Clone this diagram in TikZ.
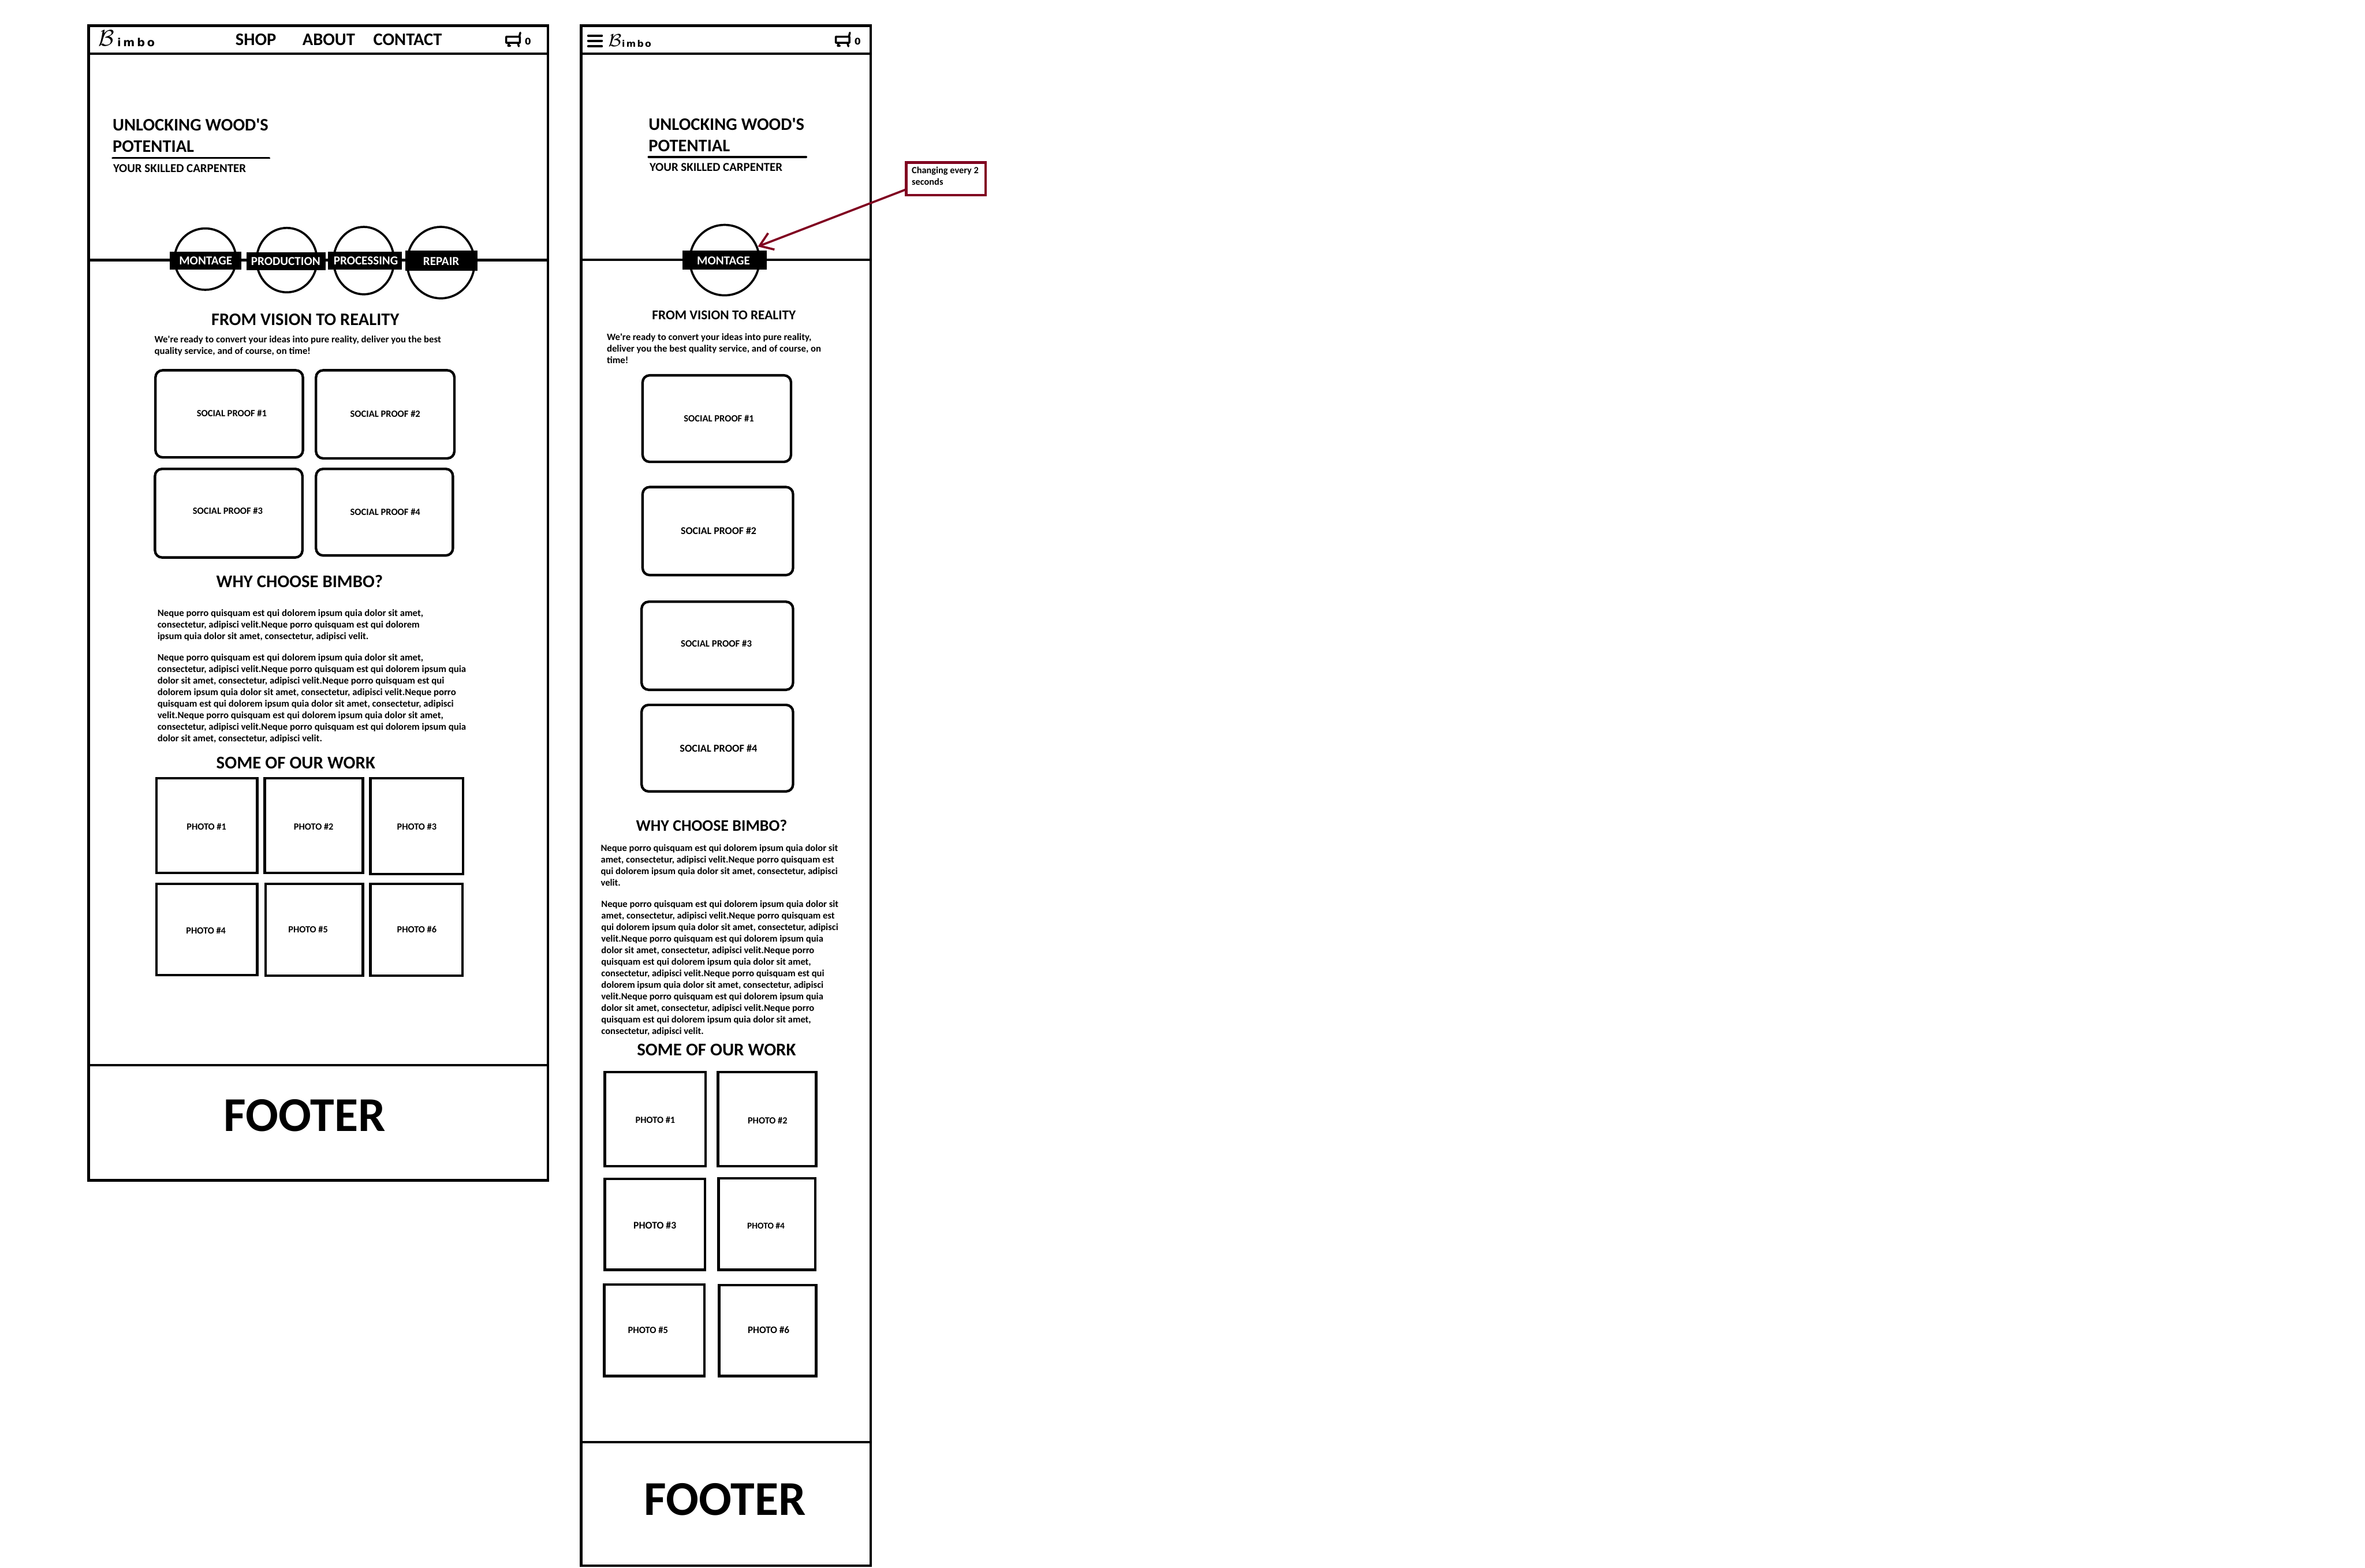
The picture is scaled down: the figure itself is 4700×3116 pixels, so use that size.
\documentclass[tikz,border=0pt]{standalone}
\usepackage{fontspec}
\setmainfont{Carlito}[BoldFont={Carlito Bold},Ligatures=ResetAll]
\newfontfamily\logoa[LetterSpace=20]{DejaVu Sans Bold}
\newfontfamily\logob[LetterSpace=15]{DejaVu Sans Bold}
\newfontfamily\zerof{DejaVu Sans Bold}
\usetikzlibrary{arrows.meta}
\definecolor{noteRed}{HTML}{800020}
\newcommand\sq{\XeTeXglyph\XeTeXcharglyph"27\relax}
\newcommand\fs[1]{\fontsize{#1}{#1}\selectfont\bfseries}
\newcommand\Tx[5]{\node[txt,font=\fs{#2}] (#1) at (#3,#4) {#5};}
\newcommand\TxW[5]{\node[txt,text=white,font=\fs{#2}] (#1) at (#3,#4) {#5};}
\newcommand\ParaT[5]{\node[txt] (#1) at (#3,#4) {\parbox[t]{200pt}{\raggedright\fontsize{#2}{4.6}\selectfont\bfseries #5}};}
\newcommand\Cart[2]{\draw[cart,shift={(#1,#2)}] (1,8) -- (28,8) -- (28,20) -- (1,20) -- cycle (27,8) -- (29,0) (7,20) -- (5,26) -- (9,26) (24,20) -- (26,27);}
\tikzset{
  x=0.2pt,y=-0.2pt,
  txt/.style={inner sep=0pt,outer sep=0pt,anchor=base west,text=black},
  frameline/.style={line width=1pt,draw=black},
  divline/.style={line width=0.95pt,draw=black},
  rule/.style={line width=0.85pt,draw=black,line cap=round},
  ring/.style={line width=0.85pt,draw=black},
  card/.style={line width=1pt,draw=black,rounded corners=2.8pt},
  photo/.style={line width=1pt,draw=black},
  cart/.style={line width=0.8pt,draw=black,line cap=round,line join=round},
  burger/.style={line width=0.9pt,draw=black,line cap=round},
  note/.style={line width=1pt,draw=noteRed,fill=white,inner sep=0pt,minimum width=31.6pt,minimum height=13pt},
  pointer/.style={line width=0.85pt,draw=noteRed,-{Straight Barb[length=5pt,width=7pt]}}
}
\begin{document}
\begin{tikzpicture}
\useasboundingbox (0,0) rectangle (4700,3116);
% ---------- desktop ----------
\draw[frameline] (176,51) rectangle (1089,2346);
\draw[divline] (176,107) -- (1089,107);
\draw[divline] (176,517) -- (1089,517);
\draw[divline] (176,2117) -- (1089,2117);
\node[txt,font=\fontsize{9}{9}\selectfont] (dlogoB) at (196,91) {$\mathcal{B}$};
\node[txt,font=\logoa\fontsize{4.4}{4.4}\selectfont] (dlogo) at (233,92) {imbo};
\Tx{dshop}{7}{468}{90}{SHOP}
\Tx{dabout}{7}{601}{90}{ABOUT}
\Tx{dcontact}{7}{742}{90}{CONTACT}
\Cart{1005}{65}
\node[txt,font=\zerof\fontsize{3.6}{3.6}\selectfont] (dzero) at (1043,89) {0};
\Tx{dh1a}{7}{224}{260}{UNLOCKING WOOD\sq S}
\Tx{dh1b}{7}{224}{302}{POTENTIAL}
\draw[rule] (224,314) -- (535,314);
\Tx{dtag}{4.8}{225}{342}{YOUR SKILLED CARPENTER}
\draw[ring] (408,515) ellipse [x radius=61,y radius=61];
\draw[ring] (570,517) ellipse [x radius=60,y radius=64];
\draw[ring] (723,518) ellipse [x radius=60,y radius=67];
\draw[ring] (876,522) ellipse [x radius=67,y radius=71];
\fill (337,500) rectangle (480,536);
\fill (490,501) rectangle (647,537);
\fill (652,500) rectangle (799,536);
\fill (805,498) rectangle (949,538);
\TxW{dt1}{4.85}{356}{526}{MONTAGE}
\TxW{dt2}{4.85}{499}{527}{PRODUCTION}
\TxW{dt3}{4.85}{663}{526}{PROCESSING}
\TxW{dt4}{4.85}{841}{527}{REPAIR}
\Tx{dh2a}{7}{420}{647}{FROM VISION TO REALITY}
\ParaT{dp0}{3.85}{307}{681}{We\sq re ready to convert your ideas into pure reality, deliver you the best\\quality service, and of course, on time!}
\draw[card] (309,736) rectangle (602,909);
\draw[card] (628,736) rectangle (903,911);
\draw[card] (308,932) rectangle (601,1108);
\draw[card] (628,932) rectangle (900,1104);
\Tx{ds1}{3.8}{391}{828}{SOCIAL PROOF \#1}
\Tx{ds2}{3.8}{696}{829}{SOCIAL PROOF \#2}
\Tx{ds3}{3.8}{383}{1022}{SOCIAL PROOF \#3}
\Tx{ds4}{3.8}{696}{1024}{SOCIAL PROOF \#4}
\Tx{dh2b}{7.05}{430}{1167}{WHY CHOOSE BIMBO?}
\ParaT{dp1}{3.85}{313}{1225}{Neque porro quisquam est qui dolorem ipsum quia dolor sit amet,\\consectetur, adipisci velit.Neque porro quisquam est qui dolorem\\ipsum quia dolor sit amet, consectetur, adipisci velit.}
\ParaT{dp2}{3.85}{313}{1313}{Neque porro quisquam est qui dolorem ipsum quia dolor sit amet,\\consectetur, adipisci velit.Neque porro quisquam est qui dolorem ipsum quia\\dolor sit amet, consectetur, adipisci velit.Neque porro quisquam est qui\\dolorem ipsum quia dolor sit amet, consectetur, adipisci velit.Neque porro\\quisquam est qui dolorem ipsum quia dolor sit amet, consectetur, adipisci\\velit.Neque porro quisquam est qui dolorem ipsum quia dolor sit amet,\\consectetur, adipisci velit.Neque porro quisquam est qui dolorem ipsum quia\\dolor sit amet, consectetur, adipisci velit.}
\Tx{dh2c}{7.1}{430}{1528}{SOME OF OUR WORK}
\draw[photo] (311,1547) rectangle (511,1735);
\draw[photo] (526,1547) rectangle (721,1735);
\draw[photo] (736,1547) rectangle (920,1737);
\draw[photo] (311,1757) rectangle (511,1938);
\draw[photo] (528,1757) rectangle (721,1939);
\draw[photo] (736,1757) rectangle (919,1939);
\Tx{dph1}{3.75}{371}{1649}{PHOTO \#1}
\Tx{dph2}{3.75}{584}{1650}{PHOTO \#2}
\Tx{dph3}{3.75}{789}{1650}{PHOTO \#3}
\Tx{dph4}{3.75}{370}{1856}{PHOTO \#4}
\Tx{dph5}{3.75}{573}{1854}{PHOTO \#5}
\Tx{dph6}{3.75}{789}{1854}{PHOTO \#6}
\Tx{dfoot}{19.3}{445}{2248}{FOOTER}
% ---------- mobile ----------
\draw[frameline] (1155,51) rectangle (1730,3112);
\draw[divline] (1155,107) -- (1730,107);
\draw[divline] (1155,516) -- (1730,516);
\draw[divline] (1155,2866) -- (1730,2866);
\draw[burger] (1169,71) -- (1196,71) (1169,81) -- (1196,81) (1169,92) -- (1196,92);
\node[txt,font=\fontsize{7}{7}\selectfont] (mlogoB) at (1209,92) {$\mathcal{B}$};
\node[txt,font=\logob\fontsize{3.6}{3.6}\selectfont] (mlogo) at (1236,93) {imbo};
\Cart{1660}{65}
\node[txt,font=\zerof\fontsize{3.6}{3.6}\selectfont] (mzero) at (1698,89) {0};
\Tx{mh1a}{7}{1289}{259}{UNLOCKING WOOD\sq S}
\Tx{mh1b}{7}{1289}{301}{POTENTIAL}
\draw[rule] (1289,312) -- (1602,312);
\Tx{mtag}{4.8}{1291}{340}{YOUR SKILLED CARPENTER}
\draw[ring] (1440,517) ellipse [x radius=69,y radius=70];
\fill (1356,498) rectangle (1524,536);
\TxW{mt1}{4.85}{1385}{526}{MONTAGE}
\node[note] (callout) at (1880,355.5) {};
\node[txt] (callouttext) at (1812,345) {\parbox[t]{100pt}{\fontsize{3.75}{4.6}\selectfont\bfseries Changing every 2\\seconds}};
\coordinate (ptip) at (1506,490);
\draw[pointer] (callout.195) -- (ptip);
\Tx{mh2a}{5.35}{1296}{635}{FROM VISION TO REALITY}
\ParaT{mp0}{3.85}{1206}{676}{We\sq re ready to convert your ideas into pure reality,\\deliver you the best quality service, and of course, on\\time!}
\draw[card] (1277,746) rectangle (1572,918);
\draw[card] (1277,968) rectangle (1576,1143);
\draw[card] (1275,1196) rectangle (1576,1371);
\draw[card] (1275,1401) rectangle (1576,1573);
\Tx{ms1}{3.8}{1359}{838}{SOCIAL PROOF \#1}
\Tx{ms2}{4.1}{1353}{1062}{SOCIAL PROOF \#2}
\Tx{ms3}{3.85}{1353}{1286}{SOCIAL PROOF \#3}
\Tx{ms4}{4.2}{1351}{1494}{SOCIAL PROOF \#4}
\Tx{mh2b}{6.4}{1264}{1652}{WHY CHOOSE BIMBO?}
\ParaT{mp1}{3.8}{1194}{1692}{Neque porro quisquam est qui dolorem ipsum quia dolor sit\\amet, consectetur, adipisci velit.Neque porro quisquam est\\qui dolorem ipsum quia dolor sit amet, consectetur, adipisci\\velit.}
\ParaT{mp2}{3.8}{1195}{1803}{Neque porro quisquam est qui dolorem ipsum quia dolor sit\\amet, consectetur, adipisci velit.Neque porro quisquam est\\qui dolorem ipsum quia dolor sit amet, consectetur, adipisci\\velit.Neque porro quisquam est qui dolorem ipsum quia\\dolor sit amet, consectetur, adipisci velit.Neque porro\\quisquam est qui dolorem ipsum quia dolor sit amet,\\consectetur, adipisci velit.Neque porro quisquam est qui\\dolorem ipsum quia dolor sit amet, consectetur, adipisci\\velit.Neque porro quisquam est qui dolorem ipsum quia\\dolor sit amet, consectetur, adipisci velit.Neque porro\\quisquam est qui dolorem ipsum quia dolor sit amet,\\consectetur, adipisci velit.}
\Tx{mh2c}{7.1}{1266}{2098}{SOME OF OUR WORK}
\draw[photo] (1202,2131) rectangle (1402,2318);
\draw[photo] (1427,2131) rectangle (1622,2318);
\draw[photo] (1202,2343) rectangle (1401,2524);
\draw[photo] (1428,2342) rectangle (1620,2524);
\draw[photo] (1201,2553) rectangle (1400,2735);
\draw[photo] (1429,2554) rectangle (1622,2735);
\Tx{mph1}{3.75}{1263}{2232}{PHOTO \#1}
\Tx{mph2}{3.75}{1486}{2233}{PHOTO \#2}
\Tx{mph3}{4.05}{1259}{2442}{PHOTO \#3}
\Tx{mph4}{3.55}{1485}{2442}{PHOTO \#4}
\Tx{mph5}{3.8}{1248}{2650}{PHOTO \#5}
\Tx{mph6}{3.95}{1486}{2650}{PHOTO \#6}
\Tx{mfoot}{19.3}{1280}{3012}{FOOTER}
\end{tikzpicture}
\end{document}
